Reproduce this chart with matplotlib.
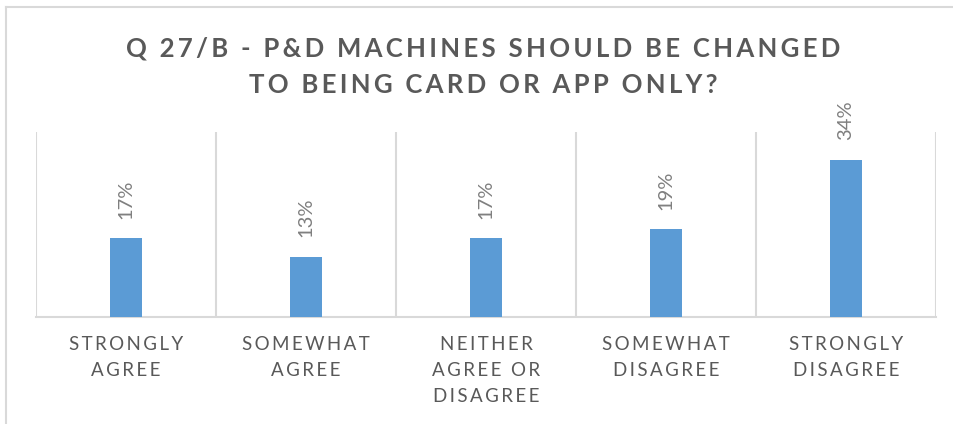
import matplotlib
matplotlib.use("Agg")
import matplotlib.pyplot as plt
from matplotlib.lines import Line2D
import matplotlib.transforms as mtransforms

categories = [["STRONGLY", "AGREE"], ["SOMEWHAT", "AGREE"], ["NEITHER", "AGREE OR", "DISAGREE"],
              ["SOMEWHAT", "DISAGREE"], ["STRONGLY", "DISAGREE"]]
values = [0.17, 0.13, 0.17, 0.19, 0.34]
value_labels = ["17%", "13%", "17%", "19%", "34%"]
title_lines = ["Q 27/B - P&D MACHINES SHOULD BE CHANGED", "TO BEING CARD OR APP ONLY?"]

FAM = ["Lato", "DejaVu Sans"]
BAR = "#5B9BD5"
GRID = "#D9D9D9"
W, H = 954, 424

def spaced(s, sep):
    return sep.join(list(s))

fig = plt.figure(figsize=(W / 100, H / 100), dpi=100)
fig.patch.set_facecolor("white")

# outer chart border (top & left visible)
fig.add_artist(Line2D([6.5 / W, 6.5 / W], [0, 1 - 7 / H], color=GRID, lw=1.5, transform=fig.transFigure))
fig.add_artist(Line2D([6.5 / W, 1], [1 - 7 / H, 1 - 7 / H], color=GRID, lw=1.5, transform=fig.transFigure))

ax_l, ax_r, ax_t, ax_b = 36, 936, 132, 317
ax = fig.add_axes([ax_l / W, 1 - ax_b / H, (ax_r - ax_l) / W, (ax_b - ax_t) / H])
x = list(range(len(values)))
ax.bar(x, values, width=0.183, color=BAR, zorder=3)
ax.set_xlim(-0.5, len(values) - 0.5)
ax.set_ylim(0, 0.40)
for s in ["top", "right", "left"]:
    ax.spines[s].set_visible(False)
ax.spines["bottom"].set_color(GRID)
ax.spines["bottom"].set_linewidth(1.5)
for b in range(len(values) + 1):
    ax.axvline(b - 0.5, color=GRID, lw=1.5, zorder=1)
ax.set_xticks([])
ax.set_yticks([])

for xi, v, lab in zip(x, values, value_labels):
    ax.annotate(lab, (xi, v), xytext=(0, 14), textcoords="offset points",
                rotation=90, ha="center", va="bottom", fontsize=14.5,
                color="#7F7F7F", family=FAM)

trans = mtransforms.blended_transform_factory(ax.transData, fig.transFigure)
line_y = [345, 371, 397]
for xi, lines in zip(x, categories):
    for li, ln in enumerate(lines):
        ax.text(xi, 1 - line_y[li] / H, spaced(ln, "\u2009"), transform=trans,
                ha="center", va="center", fontsize=13.5, color="#595959", family=FAM)

title_y = [48, 85]
for ty, tl in zip(title_y, title_lines):
    fig.text(483 / W, 1 - ty / H, spaced(tl, "\u200a\u200a"), ha="center", va="center",
             fontsize=18.5, fontweight="bold", color="#595959", family=FAM)

fig.savefig("out.png", dpi=100)
